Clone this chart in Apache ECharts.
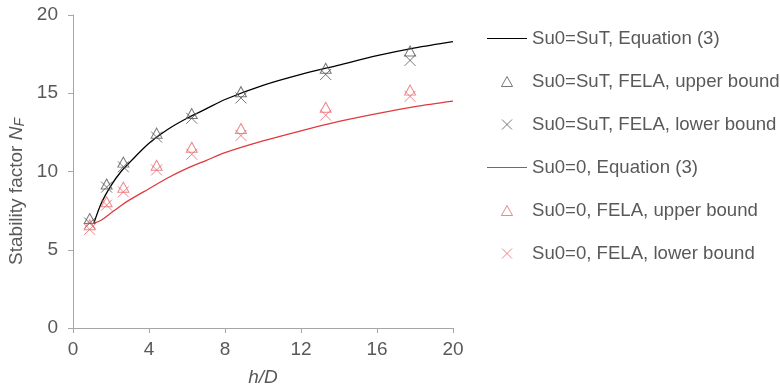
<!DOCTYPE html>
<html>
<head>
<meta charset="utf-8">
<script src="https://cdn.jsdelivr.net/npm/echarts@6/dist/echarts.min.js"></script>
<style>html,body{margin:0;padding:0;background:#fff;}#c{width:780px;height:386px;}</style>
</head>
<body>
<div id="c"></div>
<script>
// h/D values of FELA points
const feX = [0.88, 1.77, 2.65, 4.4, 6.25, 8.84, 13.3, 17.74];
const blackUpper = [7.0, 9.2, 10.6, 12.45, 13.7, 15.1, 16.6, 17.7];
const blackLower = [6.7, 9.0, 10.3, 12.2, 13.4, 14.7, 16.2, 17.1];
const redUpper = [6.6, 8.07, 9.0, 10.4, 11.55, 12.75, 14.1, 15.2];
const redLower = [6.3, 7.85, 8.7, 10.1, 11.1, 12.3, 13.6, 14.8];
// Equation (3) curves
const eqX = [1.1, 1.5, 2, 2.5, 3, 4, 5, 6, 7, 8, 10, 12, 14, 16, 18, 20];
const blackEq = [6.7, 8.0, 9.1, 9.95, 10.6, 11.8, 12.7, 13.4, 14.0, 14.6, 15.5, 16.2, 16.8, 17.4, 17.9, 18.3];
const redEq = [6.7, 6.9, 7.35, 7.8, 8.2, 8.9, 9.6, 10.2, 10.7, 11.2, 11.95, 12.6, 13.2, 13.7, 14.15, 14.5];
const xTicks = [0, 4, 8, 12, 16, 20];
const yTicks = [0, 5, 10, 15, 20];
const names = ['Su0=SuT, Equation (3)', 'Su0=SuT, FELA, upper bound', 'Su0=SuT, FELA, lower bound',
  'Su0=0, Equation (3)', 'Su0=0, FELA, upper bound', 'Su0=0, FELA, lower bound'];

const zip = (xs, ys) => xs.map((x, i) => [x, ys[i]]);
const FONT = '"Liberation Sans", Arial, sans-serif';
const FS = 19;
const LFS = 18.6;
const crossPath = 'path://M0,0L10,10M10,0L0,10';
const triPath = 'path://M5,0L10,9L0,9Z';
const linePath = 'path://M0,0H40V1.2H0Z';
const GRAY = '#555555';
const RED_LINE = '#E0393E';
const RED_MK = '#E8676B';
const TXT = '#595959';

const chart = echarts.init(document.getElementById('c'), null, {renderer: 'canvas'});
function scatter(name, data, sym, col, size) {
  return {
    name, type: 'scatter', data, symbol: sym, symbolSize: size,
    itemStyle: {color: 'none', borderColor: col, borderWidth: 1},
    emphasis: {disabled: true}, z: 3
  };
}
const legendData = [
  {name: names[0], icon: linePath, itemStyle: {color: '#000000', borderWidth: 0}},
  {name: names[1], icon: triPath, itemStyle: {color: 'none', borderColor: GRAY, borderWidth: 1}},
  {name: names[2], icon: crossPath, itemStyle: {color: 'none', borderColor: GRAY, borderWidth: 1}},
  {name: names[3], icon: linePath, itemStyle: {color: RED_LINE, borderWidth: 0}},
  {name: names[4], icon: triPath, itemStyle: {color: 'none', borderColor: RED_MK, borderWidth: 1}},
  {name: names[5], icon: crossPath, itemStyle: {color: 'none', borderColor: RED_MK, borderWidth: 1}}
];
chart.setOption({
  animation: false,
  textStyle: {fontFamily: FONT},
  grid: {left: 73, right: 327, top: 15, bottom: 58, containLabel: false, outerBoundsMode: 'none'},
  xAxis: {
    type: 'value', min: 0, max: 20, interval: 4,
    name: 'h/D', nameLocation: 'middle', nameGap: 40,
    nameTextStyle: {fontStyle: 'italic', fontSize: FS, color: TXT, fontFamily: FONT},
    axisLine: {show: true, lineStyle: {color: '#A6A6A6', width: 1}},
    axisTick: {show: true, length: 5, lineStyle: {color: '#A6A6A6'}},
    axisLabel: {fontSize: FS, color: TXT, margin: 12, fontFamily: FONT},
    splitLine: {show: false}
  },
  yAxis: {
    type: 'value', min: 0, max: 20, interval: 5,
    name: '{a|Stability factor }{n|N}{s|F}', nameLocation: 'middle', nameGap: 46,
    nameTextStyle: {
      color: TXT, fontFamily: FONT, padding: [0, 40, 0, 0],
      rich: {
        a: {fontSize: FS, color: TXT, fontFamily: FONT},
        n: {fontSize: FS, fontStyle: 'italic', color: TXT, fontFamily: FONT},
        s: {fontSize: 14, fontStyle: 'italic', color: TXT, fontFamily: FONT, padding: [6, 0, 0, 0]}
      }
    },
    axisLine: {show: true, lineStyle: {color: '#A6A6A6', width: 1}},
    axisTick: {show: true, length: 5, lineStyle: {color: '#A6A6A6'}},
    axisLabel: {fontSize: FS, color: TXT, margin: 15, fontFamily: FONT},
    splitLine: {show: false}
  },
  legend: {
    orient: 'vertical', left: 482, top: 24,
    itemWidth: 40, itemHeight: 10, itemGap: 24,
    symbolKeepAspect: true,
    textStyle: {fontSize: LFS, color: TXT, fontFamily: FONT},
    data: legendData,
    selectedMode: false
  },
  series: [
    {name: names[0], type: 'line', data: zip(eqX, blackEq), smooth: 0.3, symbol: 'none', showSymbol: false,
     lineStyle: {color: '#000000', width: 1.3}, itemStyle: {color: '#000000'}, z: 2},
    scatter(names[1], zip(feX, blackUpper), 'triangle', GRAY, [11, 10]),
    scatter(names[2], zip(feX, blackLower), crossPath, GRAY, 11),
    {name: names[3], type: 'line', data: zip(eqX, redEq), smooth: 0.3, symbol: 'none', showSymbol: false,
     lineStyle: {color: RED_LINE, width: 1.3}, itemStyle: {color: RED_LINE}, z: 2},
    scatter(names[4], zip(feX, redUpper), 'triangle', RED_MK, [11, 10]),
    scatter(names[5], zip(feX, redLower), crossPath, RED_MK, 11)
  ]
});
</script>
</body>
</html>
